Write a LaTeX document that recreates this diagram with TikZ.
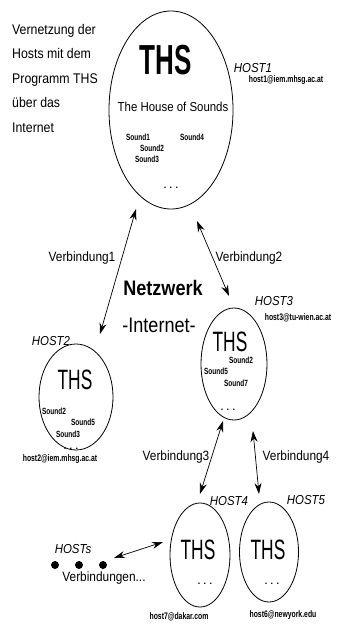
\documentclass[tikz,border=0pt]{standalone}
\usepackage{fontspec}
\setmainfont{Liberation Sans}
\newfontfamily\fTxt[FakeStretch=0.88]{Liberation Sans}
\newfontfamily\fNar[FakeStretch=0.62]{Liberation Sans}
\newfontfamily\fSnd[FakeStretch=0.72]{Liberation Sans}
\newfontfamily\fNet[FakeStretch=0.86]{Liberation Sans}
\usetikzlibrary{shapes.geometric,arrows.meta}
\begin{document}
\begin{tikzpicture}[x=1pt,y=-1pt,
  hostell/.style={draw,ellipse,line width=0.8pt,inner sep=0pt},
  bigths/.style={font=\fNar\bfseries\fontsize{42}{42}\selectfont,inner sep=0pt},
  ths/.style={font=\fNar\fontsize{28}{28}\selectfont,inner sep=0pt},
  snd/.style={font=\fSnd\bfseries\fontsize{9}{9}\selectfont,inner sep=0pt},
  dots/.style={font=\bfseries\fontsize{9}{9}\selectfont,inner sep=0pt,anchor=base},
  hostlbl/.style={font=\fTxt\itshape\fontsize{13}{13}\selectfont,inner sep=0pt},
  mail/.style={font=\fSnd\bfseries\fontsize{9.5}{9.5}\selectfont,inner sep=0pt},
  vlbl/.style={font=\fTxt\fontsize{13.5}{13.5}\selectfont,inner sep=0pt},
  link/.style={line width=0.7pt,{Stealth[length=11pt,width=7pt]}-{Stealth[length=11pt,width=7pt]}}]
\useasboundingbox (0,0) rectangle (339,630);
\fill[white] (0,0) rectangle (339,630);

% intro text
\node[font=\fTxt\fontsize{14}{24.5}\selectfont,align=left,anchor=north west,inner sep=0pt] (intro) at (12,24)
  {Vernetzung der\\Hosts mit dem\\Programm THS\\über das\\Internet};

% HOST1
\node[hostell,minimum width=124pt,minimum height=198pt] (h1) at (171,110) {};
\node[bigths] (h1ths) at (166,60) {THS};
\node[font=\fTxt\fontsize{13}{13}\selectfont,inner sep=0pt] (h1title) at (173,107) {The House of Sounds};
\node[snd] (h1s1) at (138,137) {Sound1};
\node[snd] (h1s4) at (192,137) {Sound4};
\node[snd] (h1s2) at (152,148) {Sound2};
\node[snd] (h1s3) at (147,159) {Sound3};
\node[dots] (h1d) at (171,188) {. . .};
\node[hostlbl] (h1l) at (253,68) {HOST1};
\node[mail] (h1m) at (286,80) {host1@iem.mhsg.ac.at};

% Netzwerk
\node[font=\fNet\bfseries\fontsize{21}{21}\selectfont,inner sep=0pt] (netz) at (163,288) {Netzwerk};
\node[font=\fNet\fontsize{21}{21}\selectfont,inner sep=0pt] (inet) at (159,325) {-Internet-};

% HOST2
\node[hostell,minimum width=74pt,minimum height=106pt] (h2) at (76,397) {};
\node[ths] (h2ths) at (75,380) {THS};
\node[snd] (h2s2) at (54,411) {Sound2};
\node[snd] (h2s5) at (83,422) {Sound5};
\node[snd] (h2s3) at (68,434) {Sound3};
\node[dots] (h2d) at (71,449) {. . .};
\node[hostlbl] (h2l) at (51,341) {HOST2};
\node[mail] (h2m) at (60,459) {host2@iem.mhsg.ac.at};

% HOST3
\node[hostell,minimum width=66pt,minimum height=112pt] (h3) at (234,364) {};
\node[ths] (h3ths) at (230,342) {THS};
\node[snd] (h3s2) at (241,360) {Sound2};
\node[snd] (h3s5) at (216,371) {Sound5};
\node[snd] (h3s7) at (236,383) {Sound7};
\node[dots] (h3d) at (228,410) {. . .};
\node[hostlbl] (h3l) at (274,301) {HOST3};
\node[mail] (h3m) at (298,318) {host3@tu-wien.ac.at};

% HOST4
\node[hostell,minimum width=60pt,minimum height=104pt] (h4) at (200,555) {};
\node[ths] (h4ths) at (198,550) {THS};
\node[dots] (h4d) at (205,584) {. . .};
\node[hostlbl] (h4l) at (229,501) {HOST4};
\node[mail] (h4m) at (179,617) {host7@dakar.com};

% HOST5
\node[hostell,minimum width=59pt,minimum height=100pt] (h5) at (269,552) {};
\node[ths] (h5ths) at (268,550) {THS};
\node[dots] (h5d) at (272,584) {. . .};
\node[hostlbl] (h5l) at (306,500) {HOST5};
\node[mail] (h5m) at (283,615) {host6@newyork.edu};

% other hosts
\node[hostlbl] (hs) at (73,549) {HOSTs};
\node[circle,fill,inner sep=0pt,minimum size=8pt] (p1) at (55,565) {};
\node[circle,fill,inner sep=0pt,minimum size=8pt] (p2) at (79,565) {};
\node[circle,fill,inner sep=0pt,minimum size=8pt] (p3) at (103,565) {};
\node[vlbl] (vn) at (104,578) {Verbindungen...};

% connection end points
\coordinate (a1) at (136,209);
\coordinate (b1) at (100,334);
\coordinate (a2) at (197,221);
\coordinate (b2) at (229,296);
\coordinate (a3) at (223,421);
\coordinate (b3) at (200,494);
\coordinate (a4) at (253,431);
\coordinate (b4) at (259,494);
\coordinate (a5) at (114,558);
\coordinate (b5) at (163,542);

\draw[link] (a1) -- (b1);
\draw[link] (a2) -- (b2);
\draw[link] (a3) -- (b3);
\draw[link] (a4) -- (b4);
\draw[link] (a5) -- (b5);

\node[vlbl] (v1) at (82,258) {Verbindung1};
\node[vlbl] (v2) at (249,258) {Verbindung2};
\node[vlbl] (v3) at (176,457) {Verbindung3};
\node[vlbl] (v4) at (296,457) {Verbindung4};
\end{tikzpicture}
\end{document}
